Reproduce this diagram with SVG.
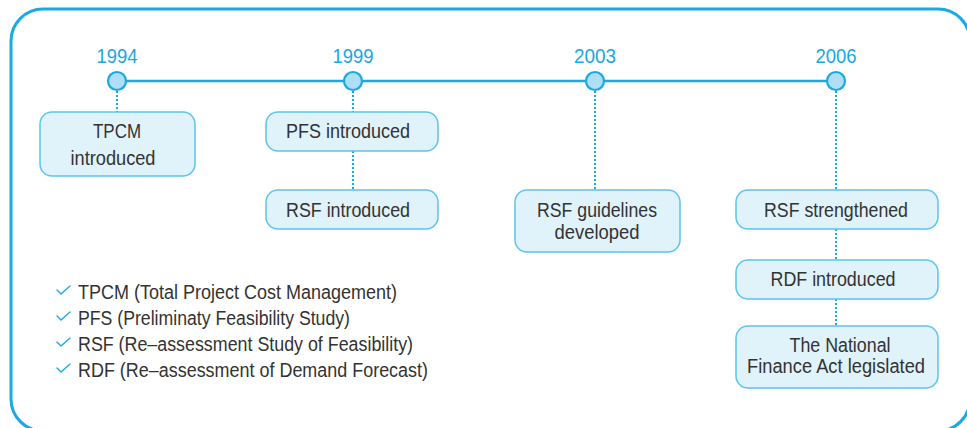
<svg xmlns="http://www.w3.org/2000/svg" width="967" height="428" viewBox="0 0 967 428">
<style>
.frame{fill:none;stroke:#1aa9e4;stroke-width:3}
.axis{stroke:#1aa9e4;stroke-width:2.5;fill:none}
.dot{fill:#aedff6;stroke:#1aa9e4;stroke-width:2.2}
.link{stroke:#1aa9e4;stroke-width:2;stroke-dasharray:2 2;fill:none}
.box{fill:#e0f2fa;stroke:#5cc4ee;stroke-width:1.5}
.year{font-family:"Liberation Sans",Arial,sans-serif;font-size:21px;fill:#18a8e2;text-anchor:middle}
.lbl{font-family:"Liberation Sans",Arial,sans-serif;font-size:20px;fill:#333;text-anchor:middle}
.leg{font-family:"Liberation Sans",Arial,sans-serif;font-size:19.5px;fill:#333}
.chk{fill:none;stroke:#1aa9e4;stroke-width:1.4;stroke-linecap:round;stroke-linejoin:round}
</style>
<rect class="frame" x="11" y="9" width="959" height="422" rx="32"/>
<g id="connectors">
<line class="axis" x1="117" y1="81" x2="836" y2="81"/>
<line class="link" x1="117" y1="91" x2="117" y2="112"/>
<line class="link" x1="353" y1="91" x2="353" y2="112"/>
<line class="link" x1="353" y1="151" x2="353" y2="190"/>
<line class="link" x1="595" y1="91" x2="595" y2="190"/>
<line class="link" x1="836" y1="91" x2="836" y2="190"/>
<line class="link" x1="836" y1="229" x2="836" y2="260"/>
<line class="link" x1="836" y1="299" x2="836" y2="326"/>
</g>
<g id="y1994"><circle class="dot" cx="117" cy="81" r="9"/><text class="year" x="117" y="63" textLength="41" lengthAdjust="spacingAndGlyphs">1994</text></g>
<g id="y1999"><circle class="dot" cx="353" cy="81" r="9"/><text class="year" x="353" y="63" textLength="41" lengthAdjust="spacingAndGlyphs">1999</text></g>
<g id="y2003"><circle class="dot" cx="595" cy="81" r="9"/><text class="year" x="595" y="63" textLength="42" lengthAdjust="spacingAndGlyphs">2003</text></g>
<g id="y2006"><circle class="dot" cx="836" cy="81" r="9"/><text class="year" x="836" y="63" textLength="41" lengthAdjust="spacingAndGlyphs">2006</text></g>
<g id="tpcm"><rect class="box" x="40" y="112" width="155" height="64" rx="12"/><text class="lbl" x="117" y="138" textLength="48" lengthAdjust="spacingAndGlyphs">TPCM</text><text class="lbl" x="113" y="165" textLength="85" lengthAdjust="spacingAndGlyphs">introduced</text></g>
<g id="pfs"><rect class="box" x="266" y="112" width="172" height="39" rx="12"/><text class="lbl" x="348" y="138" textLength="124" lengthAdjust="spacingAndGlyphs">PFS introduced</text></g>
<g id="rsf"><rect class="box" x="266" y="190" width="172" height="39" rx="12"/><text class="lbl" x="348" y="217" textLength="124" lengthAdjust="spacingAndGlyphs">RSF introduced</text></g>
<g id="rsfg"><rect class="box" x="515" y="190" width="165" height="62" rx="12"/><text class="lbl" x="597" y="217" textLength="120" lengthAdjust="spacingAndGlyphs">RSF guidelines</text><text class="lbl" x="597" y="239" textLength="85" lengthAdjust="spacingAndGlyphs">developed</text></g>
<g id="rsfs"><rect class="box" x="736" y="190" width="202" height="39" rx="12"/><text class="lbl" x="836" y="217" textLength="144" lengthAdjust="spacingAndGlyphs">RSF strengthened</text></g>
<g id="rdf"><rect class="box" x="736" y="260" width="202" height="39" rx="12"/><text class="lbl" x="833" y="286" textLength="125" lengthAdjust="spacingAndGlyphs">RDF introduced</text></g>
<g id="nfa"><rect class="box" x="736" y="326" width="202" height="62" rx="12"/><text class="lbl" x="840" y="352" textLength="101" lengthAdjust="spacingAndGlyphs">The National</text><text class="lbl" x="836" y="373" textLength="178" lengthAdjust="spacingAndGlyphs">Finance Act legislated</text></g>
<g id="legend">
<path class="chk" d="M57 290 L61 294 L70 286"/>
<text class="leg" x="78" y="299" textLength="319" lengthAdjust="spacingAndGlyphs">TPCM (Total Project Cost Management)</text>
<path class="chk" d="M57 316 L61 320 L70 312"/>
<text class="leg" x="78" y="325" textLength="272" lengthAdjust="spacingAndGlyphs">PFS (Preliminaty Feasibility Study)</text>
<path class="chk" d="M57 342 L61 346 L70 338"/>
<text class="leg" x="78" y="351" textLength="335" lengthAdjust="spacingAndGlyphs">RSF (Re–assessment Study of Feasibility)</text>
<path class="chk" d="M57 368 L61 372 L70 364"/>
<text class="leg" x="78" y="377" textLength="350" lengthAdjust="spacingAndGlyphs">RDF (Re–assessment of Demand Forecast)</text>
</g>
</svg>
